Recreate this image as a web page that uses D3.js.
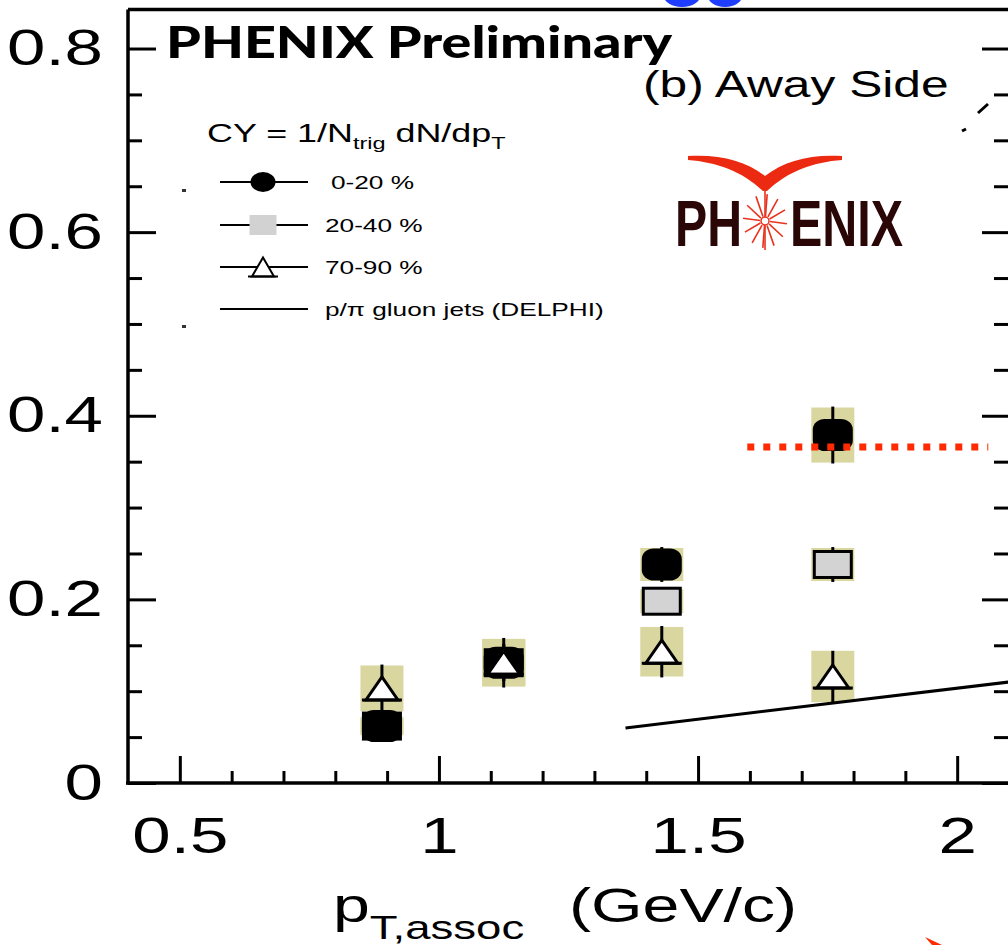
<!DOCTYPE html>
<html>
<head>
<meta charset="utf-8">
<script src="https://cdn.jsdelivr.net/npm/d3@7"></script>
<style>
  body { margin: 0; background: #fff; }
  svg { display: block; }
</style>
</head>
<body>
<div id="chart"></div>
<script>
// values
const ptAssoc = [0.89, 1.125, 1.43, 1.76];

const cyCentral = [0.062, 0.131, 0.238, 0.379];   // 0-20 %
const statCentral = [0.012, 0.02, 0.019, 0.031];
const sysCentral = [0.01, 0.025, 0.018, 0.03];

const cyMid = [0.062, 0.131, 0.198, 0.238];       // 20-40 %
const statMid = [0.012, 0.02, 0.015, 0.019];
const sysMid = [0.008, 0.025, 0.013, 0.018];

const cyPeriph = [0.103, 0.131, 0.143, 0.116];    // 70-90 %
const statPeriph = [0.026, 0.027, 0.028, 0.028];
const sysPeriph = [0.025, 0.026, 0.027, 0.028];

const delphiPt = [1.36, 2.1];
const delphiCY = [0.060, 0.110];

const refPt = [1.595, 2.06];
const refCY = [0.366, 0.366];

const xTickValues = [0.5, 1, 1.5, 2];
const yTickValues = [0, 0.2, 0.4, 0.6, 0.8];
const legendLabels = ["0-20 %", "20-40 %", "70-90 %", "p/\u03c0 gluon jets (DELPHI)"];

const W = 1008, H = 945;
const SX = 1.38;   // the original figure is stretched sideways
const FONT = "'Liberation Sans', Arial, sans-serif";

const svg = d3.select("#chart").append("svg")
    .attr("width", W)
    .attr("height", H);

const x = d3.scaleLinear().domain([0.4, 2.1]).range([128, 1009]);
const y = d3.scaleLinear().domain([0, 0.8425]).range([783, 9.5]);

const series = [
    { name: legendLabels[1], cy: cyMid, stat: statMid, sys: sysMid, shape: "square" },
    { name: legendLabels[0], cy: cyCentral, stat: statCentral, sys: sysCentral, shape: "circle" },
    { name: legendLabels[2], cy: cyPeriph, stat: statPeriph, sys: sysPeriph, shape: "triangle" }
];

function points(s) {
    return ptAssoc.map((p, i) => ({ pt: p, cy: s.cy[i], stat: s.stat[i], sys: s.sys[i], shape: s.shape }));
}

function stretched(parent, px, py, sx) {
    return parent.append("g").attr("transform", `translate(${px},${py}) scale(${sx},1)`);
}

// ---- ticks (inward, on all sides except top)
const minorX = d3.range(0.6, 2.11, 0.1).filter(v => !xTickValues.some(t => Math.abs(t - v) < 1e-6));
const minorY = d3.range(0.05, 0.84, 0.05).filter(v => !yTickValues.some(t => Math.abs(t - v) < 1e-6));

function tickAxis(axisFn, scale, values, size, transform) {
    const g = svg.append("g")
        .attr("transform", transform)
        .call(axisFn(scale).tickValues(values).tickSize(size).tickFormat(""));
    g.select(".domain").remove();
    g.selectAll("line").attr("stroke", "#000").attr("stroke-width", 3);
}
tickAxis(d3.axisBottom, x, xTickValues, -27, `translate(0,${y(0)})`);
tickAxis(d3.axisBottom, x, minorX, -12, `translate(0,${y(0)})`);
tickAxis(d3.axisLeft, y, yTickValues, -28, `translate(${x(0.4)},0)`);
tickAxis(d3.axisLeft, y, minorY, -14, `translate(${x(0.4)},0)`);
tickAxis(d3.axisRight, y, yTickValues, -27, `translate(${x(2.1)},0)`);
tickAxis(d3.axisRight, y, minorY, -15, `translate(${x(2.1)},0)`);

// ---- frame
const frame = svg.append("g").attr("stroke", "#000").attr("stroke-width", 3.5);
frame.append("line").attr("x1", x(0.4)).attr("x2", x(0.4)).attr("y1", y(0.8425)).attr("y2", y(0) + 1.5);
frame.append("line").attr("x1", x(0.4) - 2).attr("x2", W).attr("y1", y(0)).attr("y2", y(0));
frame.append("line").attr("x1", x(0.4)).attr("x2", W).attr("y1", y(0.8425)).attr("y2", y(0.8425));
frame.append("line").attr("x1", x(2.1) + 1).attr("x2", x(2.1) + 1).attr("y1", y(0.8425)).attr("y2", y(0));

// ---- tick labels
const yLab = svg.append("g")
    .attr("transform", `translate(${x(0.4)},0)`)
    .call(d3.axisLeft(y).tickValues(yTickValues).tickSize(0).tickPadding(25).tickFormat(d3.format("")));
yLab.select(".domain").remove();
yLab.selectAll("text")
    .attr("font-family", FONT).attr("font-size", 50).attr("fill", "#000")
    .attr("x", -25 / SX)
    .attr("transform", `scale(${SX},1)`);

const xLab = svg.append("g")
    .attr("transform", `translate(0,${y(0)})`)
    .call(d3.axisBottom(x).tickValues(xTickValues).tickSize(0).tickPadding(35).tickFormat(d3.format("")));
xLab.select(".domain").remove();
xLab.selectAll("text")
    .attr("font-family", FONT).attr("font-size", 50).attr("fill", "#000")
    .attr("transform", `scale(${SX},1)`)
    .attr("x", 0);

// axis title
const tP = stretched(svg, 333, 922, SX).append("text")
    .attr("font-family", FONT).attr("font-size", 48).attr("fill", "#000");
tP.append("tspan").text("p");
tP.append("tspan").attr("font-size", 33).attr("dy", 17).text("T,assoc");
stretched(svg, 569, 922, SX).append("text")
    .attr("font-family", FONT).attr("font-size", 48).attr("fill", "#000")
    .text("(GeV/c)");

// ---- data
const HW = 21.5;   // half width of systematic boxes
const allPts = series.map(points);

svg.append("g").selectAll("rect")
    .data(allPts.flat())
    .join("rect")
    .attr("x", d => x(d.pt) - HW)
    .attr("width", 2 * HW)
    .attr("y", d => y(d.cy + d.sys))
    .attr("height", d => y(d.cy - d.sys) - y(d.cy + d.sys))
    .attr("fill", "#dad6a0");

svg.append("g").selectAll("line")
    .data(allPts.flat())
    .join("line")
    .attr("x1", d => x(d.pt)).attr("x2", d => x(d.pt))
    .attr("y1", d => y(d.cy + d.stat)).attr("y2", d => y(d.cy - d.stat))
    .attr("stroke", "#000").attr("stroke-width", 3);

function drawMarker(g, shape, w, h, legend) {
    if (shape === "circle") {
        if (legend) {
            g.append("ellipse").attr("rx", w / 2).attr("ry", h / 2).attr("fill", "#000");
        } else {
            g.append("rect").attr("x", -w / 2).attr("y", -h / 2).attr("width", w).attr("height", h)
                .attr("rx", 12).attr("ry", 10.5).attr("fill", "#000");
        }
    } else if (shape === "square") {
        if (legend) {
            g.append("rect").attr("x", -w / 2).attr("y", -h / 2).attr("width", w).attr("height", h)
                .attr("fill", "#d2d2d2");
        } else {
            g.append("rect").attr("x", -w / 2 + 1.5).attr("y", -h / 2 + 1.5)
                .attr("width", w - 3).attr("height", h - 3)
                .attr("fill", "#d3d3d3").attr("stroke", "#000").attr("stroke-width", 3);
        }
    } else {
        const sw = legend ? 2 : 3;
        g.append("path")
            .attr("d", `M0,${-h / 2 + sw / 2}L${w / 2 - 4},${h / 2 - sw / 2}L${-w / 2 + 4},${h / 2 - sw / 2}Z`)
            .attr("fill", "#fff").attr("stroke", "#000").attr("stroke-width", sw)
            .attr("stroke-linejoin", "miter");
        g.append("line").attr("x1", -w / 2).attr("x2", w / 2)
            .attr("y1", h / 2 - sw / 2).attr("y2", h / 2 - sw / 2)
            .attr("stroke", "#000").attr("stroke-width", sw);
    }
}

const markerSize = { circle: [40, 32], square: [40, 29], triangle: [40, 26] };
allPts.forEach(pts => {
    svg.append("g").selectAll("g")
        .data(pts)
        .join("g")
        .attr("transform", d => `translate(${x(d.pt)},${y(d.cy)})`)
        .each(function (d) {
            drawMarker(d3.select(this), d.shape, markerSize[d.shape][0], markerSize[d.shape][1], false);
        });
});

// DELPHI gluon jet p/pi
const delphi = delphiPt.map((p, i) => [p, delphiCY[i]]);
svg.append("path")
    .datum(delphi)
    .attr("d", d3.line().x(d => x(d[0])).y(d => y(d[1])))
    .attr("fill", "none").attr("stroke", "#000").attr("stroke-width", 3);

// red dotted reference level
const ref = refPt.map((p, i) => [p, refCY[i]]);
svg.append("path")
    .datum(ref)
    .attr("d", d3.line().x(d => x(d[0])).y(d => y(d[1])))
    .attr("fill", "none").attr("stroke", "#ff2a00").attr("stroke-width", 7)
    .attr("stroke-dasharray", "7 9");

// ---- texts
svg.append("text")
    .attr("x", 166).attr("y", 58)
    .attr("font-family", "Lato, 'DejaVu Sans', sans-serif").attr("font-weight", 900)
    .attr("font-size", 44).attr("fill", "#000")
    .attr("textLength", 506).attr("lengthAdjust", "spacingAndGlyphs")
    .text("PHENIX Preliminary");

stretched(svg, 643, 97, SX).append("text")
    .attr("font-family", FONT).attr("font-size", 36).attr("fill", "#000")
    .text("(b) Away Side");

// ---- legend
const cyTitle = stretched(svg, 207, 142, SX).append("text")
    .attr("font-family", FONT).attr("font-size", 26).attr("fill", "#000");
cyTitle.append("tspan").text("CY = 1/N");
cyTitle.append("tspan").attr("font-size", 17).attr("dy", 7).text("trig");
cyTitle.append("tspan").attr("dy", -7).text(" dN/dp");
cyTitle.append("tspan").attr("font-size", 17).attr("dy", 7).text("T");

const legendRows = [
    { label: legendLabels[0], shape: "circle", y: 182, w: 25, h: 20, tx: 331 },
    { label: legendLabels[1], shape: "square", y: 225, w: 27, h: 20, tx: 325 },
    { label: legendLabels[2], shape: "triangle", y: 267, w: 30, h: 21, tx: 325 },
    { label: legendLabels[3], shape: null, y: 309, w: 0, h: 0, tx: 325 }
];
const leg = svg.append("g");
legendRows.forEach(r => {
    leg.append("line").attr("x1", 220).attr("x2", 308).attr("y1", r.y).attr("y2", r.y)
        .attr("stroke", "#000").attr("stroke-width", 2);
    if (r.shape) {
        drawMarker(leg.append("g").attr("transform", `translate(263,${r.y})`), r.shape, r.w, r.h, true);
    }
    stretched(leg, r.tx, r.y + 6.5, SX).append("text")
        .attr("font-family", FONT).attr("font-size", 19).attr("fill", "#000")
        .text(r.label);
});

// ---- PHENIX logo
const logo = svg.append("g");
logo.append("path")
    .attr("d", "M688,156 C720,154 746,161 765,176 C784,161 810,154 842,156 L842,160 C814,162 788,171 767,191 L763,191 C742,171 716,162 688,160 Z")
    .attr("fill", "#ec2a12");
d3.range(12).forEach(i => {
    const a = i * Math.PI / 6 + 0.1;
    logo.append("line")
        .attr("x1", 765 + 5 * Math.cos(a)).attr("y1", 221 + 5 * Math.sin(a))
        .attr("x2", 765 + 22 * Math.cos(a)).attr("y2", 221 + 27 * Math.sin(a))
        .attr("stroke", "#e8321e").attr("stroke-width", 1.6);
});
logo.append("line").attr("x1", 765).attr("x2", 765).attr("y1", 190).attr("y2", 250)
    .attr("stroke", "#e8321e").attr("stroke-width", 1.6);
logo.append("circle").attr("cx", 765).attr("cy", 221).attr("r", 4)
    .attr("fill", "#fff").attr("stroke", "#e8321e").attr("stroke-width", 1.5);
logo.append("text").attr("x", 675).attr("y", 246)
    .attr("font-family", "'Liberation Sans Narrow', 'Liberation Sans', sans-serif").attr("font-weight", 700)
    .attr("font-size", 64).attr("fill", "#2a0606")
    .attr("textLength", 67).attr("lengthAdjust", "spacingAndGlyphs")
    .text("PH");
logo.append("text").attr("x", 790).attr("y", 246)
    .attr("font-family", "'Liberation Sans Narrow', 'Liberation Sans', sans-serif").attr("font-weight", 700)
    .attr("font-size", 64).attr("fill", "#2a0606")
    .attr("textLength", 113).attr("lengthAdjust", "spacingAndGlyphs")
    .text("ENIX");

// ---- slide leftovers around the figure
svg.append("ellipse").attr("cx", 682).attr("cy", -6).attr("rx", 19).attr("ry", 13).attr("fill", "#1f3dff");
svg.append("ellipse").attr("cx", 725).attr("cy", -6).attr("rx", 18).attr("ry", 13).attr("fill", "#1f3dff");
svg.append("path").attr("d", "M925,937 L942,945 L932,945 Z").attr("fill", "#ff2a00");
svg.append("rect").attr("x", 182).attr("y", 189).attr("width", 4).attr("height", 3).attr("fill", "#333");
svg.append("rect").attr("x", 182).attr("y", 325).attr("width", 4).attr("height", 3).attr("fill", "#333");
svg.append("path").attr("d", "M978,113 L988,104 M962,131 L966,129").attr("stroke", "#000").attr("stroke-width", 3);
</script>
</body>
</html>
